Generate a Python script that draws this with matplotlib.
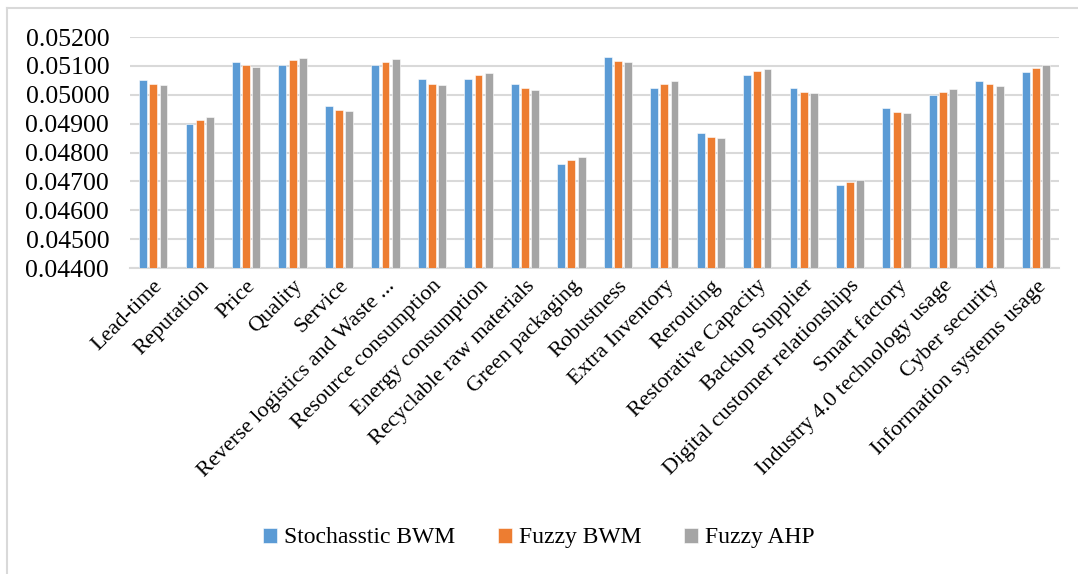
import numpy as np
import matplotlib
matplotlib.use('Agg')
import matplotlib.pyplot as plt
from matplotlib.lines import Line2D

criteria = ['Lead-time', 'Reputation', 'Price', 'Quality', 'Service',
            'Reverse logistics and Waste ...', 'Resource consumption',
            'Energy consumption', 'Recyclable raw materials', 'Green packaging',
            'Robustness', 'Extra Inventory', 'Rerouting', 'Restorative Capacity',
            'Backup Supplier', 'Digital customer relationships', 'Smart factory',
            'Industry 4.0 technology usage', 'Cyber security',
            'Information systems usage']

stoch_bwm = [0.05051, 0.04900, 0.05115, 0.05103, 0.04962, 0.05102, 0.05053,
             0.05053, 0.05036, 0.04761, 0.05132, 0.05022, 0.04867, 0.05068,
             0.05022, 0.04686, 0.04954, 0.04998, 0.05049, 0.05080]
fuzzy_bwm = [0.05039, 0.04913, 0.05102, 0.05120, 0.04949, 0.05115, 0.05039,
             0.05067, 0.05022, 0.04775, 0.05118, 0.05037, 0.04854, 0.05082,
             0.05010, 0.04699, 0.04940, 0.05010, 0.05037, 0.05092]
fuzzy_ahp = [0.05033, 0.04922, 0.05097, 0.05128, 0.04943, 0.05123, 0.05034,
             0.05077, 0.05017, 0.04783, 0.05115, 0.05046, 0.04849, 0.05091,
             0.05005, 0.04706, 0.04936, 0.05020, 0.05031, 0.05102]

series = [('Stochasstic BWM', stoch_bwm, '#5b9bd5'),
          ('Fuzzy BWM', fuzzy_bwm, '#ed7d31'),
          ('Fuzzy AHP', fuzzy_ahp, '#a5a5a5')]

plt.rcParams['font.family'] = ['Liberation Serif', 'DejaVu Serif']

fig = plt.figure(figsize=(10.78, 5.74), dpi=100)
ax = fig.add_axes([0.1206, 0.533, 0.862, 0.4025])

x = np.arange(len(criteria))
w = 0.17
step = 0.22
for i, (name, vals, col) in enumerate(series):
    ax.bar(x + (i - 1) * step, vals, width=w, color=col, label=name,
           edgecolor='white', linewidth=0.4, zorder=3)

yt = np.arange(0.044, 0.05201, 0.001)
ax.set_ylim(0.044, 0.052)
ax.set_yticks(yt)
ax.set_yticklabels(['%.5f' % v for v in yt], fontsize=18.5)
ax.set_xlim(-0.5, len(criteria) - 0.5)
ax.set_xticks(x)
ax.set_xticklabels(criteria, rotation=45, ha='right', rotation_mode='anchor', fontsize=16)
ax.tick_params(axis='y', length=0, pad=15)
ax.tick_params(axis='x', length=0, pad=6)
ax.grid(axis='y', color='#d9d9d9', linewidth=1.5, zorder=0)
for s in ['top', 'right', 'left']:
    ax.spines[s].set_visible(False)
ax.spines['bottom'].set_color('#d9d9d9')
ax.spines['bottom'].set_linewidth(1.5)

leg = fig.legend(loc='center', bbox_to_anchor=(0.5, 0.063), ncol=3, frameon=False,
                 fontsize=17, handlelength=0.6, handleheight=0.6,
                 columnspacing=1.8, handletextpad=0.3)
for t in leg.get_texts():
    t.set_fontfamily(['Liberation Serif', 'DejaVu Serif'])

# outer chart border (left and top only visible)
fig.add_artist(Line2D([7 / 1078, 7 / 1078], [0, 1 - 8 / 574], color='#d9d9d9', lw=1.5))
fig.add_artist(Line2D([7 / 1078, 1], [1 - 8 / 574, 1 - 8 / 574], color='#d9d9d9', lw=1.5))

fig.savefig('out.png', dpi=100)
